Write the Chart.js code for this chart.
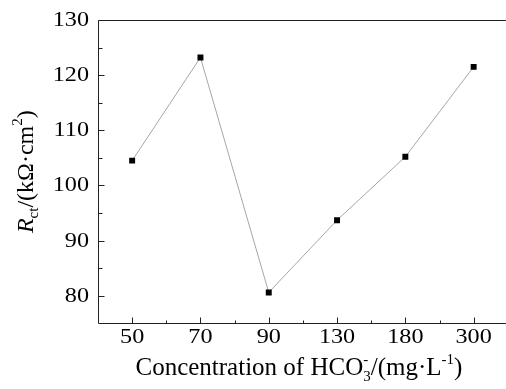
<!DOCTYPE html>
<html>
<head>
<meta charset="utf-8">
<script src="https://cdn.jsdelivr.net/npm/chart.js@4"></script>
<style>
  html, body { margin: 0; padding: 0; background: #fff; overflow: hidden; }
  canvas { display: block; }
</style>
</head>
<body>
<canvas id="c" width="512" height="389"></canvas>
<script>
// data
const categories = ['50', '70', '90', '130', '180', '300'];
const rctValues = [104.5, 123.2, 80.6, 93.7, 105.2, 121.5];
const yTickValues = [80, 90, 100, 110, 120, 130];
const yMinorValues = [85, 95, 105, 115, 125];

const SERIF = '"Liberation Serif", "Times New Roman", serif';

// draw a run of text pieces (sub/superscripts); returns total width
function drawRuns(ctx, runs, x, y, measureOnly) {
  let cx = x;
  let i = 0;
  while (i < runs.length) {
    const r = runs[i];
    ctx.font = r.font;
    const w = ctx.measureText(r.t).width;
    if (!measureOnly) ctx.fillText(r.t, cx, y + (r.dy || 0));
    if (r.stack) {
      // next run sits at the same x (sub and sup stacked)
      const n = runs[i + 1];
      ctx.font = n.font;
      const w2 = ctx.measureText(n.t).width;
      if (!measureOnly) ctx.fillText(n.t, cx, y + (n.dy || 0));
      cx += Math.max(w, w2);
      i += 2;
      continue;
    }
    cx += w;
    i++;
  }
  return cx - x;
}

const axesPlugin = {
  id: 'originAxes',
  afterDraw(chart) {
    const ctx = chart.ctx;
    const xs = chart.scales.x;
    const ys = chart.scales.y;
    const a = chart.chartArea;
    ctx.save();
    ctx.strokeStyle = '#222';
    ctx.lineWidth = 1;

    // frame
    const L = Math.round(a.left) + 0.5, R = Math.round(a.right) + 0.5;
    const T = Math.round(a.top) + 0.5, B = Math.round(a.bottom) + 0.5;
    ctx.beginPath();
    ctx.rect(L, T, R - L, B - T);
    ctx.stroke();

    // y ticks, inward
    ctx.beginPath();
    yTickValues.forEach(v => {
      const py = Math.round(ys.getPixelForValue(v)) + 0.5;
      ctx.moveTo(L, py); ctx.lineTo(L + 6, py);
    });
    yMinorValues.forEach(v => {
      const py = Math.round(ys.getPixelForValue(v)) + 0.5;
      ctx.moveTo(L, py); ctx.lineTo(L + 4, py);
    });
    // x ticks, inward
    categories.forEach((c, i) => {
      const px = Math.round(xs.getPixelForValue(i)) + 0.5;
      ctx.moveTo(px, B); ctx.lineTo(px, B - 6);
      if (i < categories.length - 1) {
        const mx = Math.round((xs.getPixelForValue(i) + xs.getPixelForValue(i + 1)) / 2) + 0.5;
        ctx.moveTo(mx, B); ctx.lineTo(mx, B - 3);
      }
    });
    ctx.stroke();

    // tick labels
    ctx.fillStyle = '#000';
    ctx.font = '22px ' + SERIF;
    ctx.textAlign = 'right';
    ctx.textBaseline = 'alphabetic';
    yTickValues.forEach(v => {
      const py = ys.getPixelForValue(v);
      ctx.save();
      ctx.translate(89, py + 6);
      ctx.scale(1.1, 1);
      ctx.fillText(String(v), 0, 0);
      ctx.restore();
    });
    ctx.textAlign = 'center';
    categories.forEach((c, i) => {
      const px = xs.getPixelForValue(i);
      ctx.save();
      ctx.translate(px, 343);
      ctx.scale(1.1, 1);
      ctx.fillText(c, 0, 0);
      ctx.restore();
    });

    // x axis title
    ctx.textAlign = 'left';
    const big = '25px ' + SERIF, small = '15px ' + SERIF;
    const xRuns = [
      { t: 'Concentration of HCO', font: big },
      { t: '3', font: small, dy: 6, stack: true },
      { t: '-', font: small, dy: -11 },
      { t: '/(mg·L', font: big },
      { t: '-1', font: small, dy: -11 },
      { t: ')', font: big }
    ];
    const xw = drawRuns(ctx, xRuns, 0, 0, true);
    const xc = (a.left + a.right) / 2 - 4;
    drawRuns(ctx, xRuns, xc - xw / 2, 375);

    // y axis title (rotated)
    const ybig = '24px ' + SERIF, ysmall = '15px ' + SERIF;
    const yRuns = [
      { t: 'R', font: 'italic ' + ybig },
      { t: 'ct', font: ysmall, dy: 5 },
      { t: '/(kΩ·cm', font: ybig },
      { t: '2', font: ysmall, dy: -11 },
      { t: ')', font: ybig }
    ];
    const yw = drawRuns(ctx, yRuns, 0, 0, true);
    const yc = (a.top + a.bottom) / 2;
    ctx.translate(33, yc);
    ctx.rotate(-Math.PI / 2);
    drawRuns(ctx, yRuns, -yw / 2, 0);
    ctx.restore();
  }
};

new Chart(document.getElementById('c'), {
  type: 'line',
  data: {
    labels: categories,
    datasets: [{
      data: rctValues,
      borderColor: '#a6a6a6',
      borderWidth: 1,
      pointStyle: 'rect',
      pointRadius: 4.2,
      pointBorderWidth: 0,
      pointBackgroundColor: '#000',
      pointBorderColor: '#000',
      tension: 0
    }]
  },
  options: {
    responsive: false,
    animation: false,
    events: [],
    layout: { padding: { left: 98, right: 2.4, top: 20, bottom: 65.7 } },
    plugins: { legend: { display: false }, tooltip: { enabled: false } },
    scales: {
      x: { type: 'category', offset: true, display: false },
      y: { min: 75, max: 130, display: false }
    }
  },
  plugins: [axesPlugin]
});
</script>
</body>
</html>
